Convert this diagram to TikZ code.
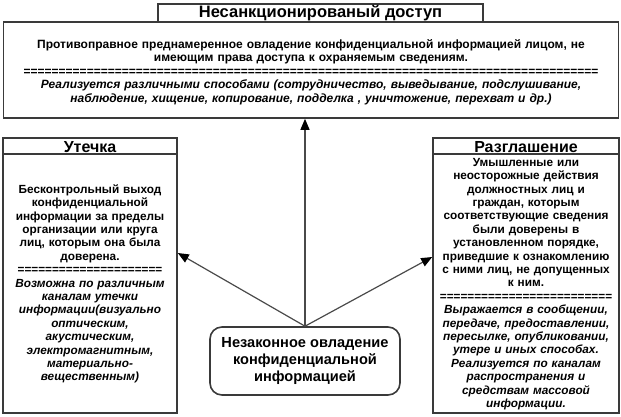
\documentclass[tikz,border=0pt]{standalone}
\usepackage{fontspec}
\setmainfont{Liberation Sans}
\usetikzlibrary{arrows.meta,positioning}
\definecolor{Frame}{HTML}{3A3A3A}
\definecolor{Wire}{HTML}{4A4A4A}

\begin{document}
\begin{tikzpicture}[x=1pt,y=-1pt,
    frame/.style={draw=Frame,line width=1.6pt,inner sep=0pt},
    body/.style={font=\fontsize{11.8}{13.4}\selectfont\bfseries,align=center,inner sep=0pt},
    head/.style={font=\fontsize{16}{18}\selectfont\bfseries,inner sep=0pt},
    arr/.style={draw=Wire,line width=1.2pt,-{Triangle[length=11pt,width=9pt,color=black]}}]
  \useasboundingbox (0,0) rectangle (621,416);
  % main box with its title
  \node[frame,minimum width=615pt,minimum height=96pt] (access) at (311,70) {};
  \node[frame,fill=white,minimum width=325pt,minimum height=18pt] (accesshead) at (320.5,13) {};
  \node[head,font=\fontsize{16.5}{19}\selectfont\bfseries] (accesstitle) at (accesshead) {Несанкционированый доступ};
  \node[body,font=\fontsize{12}{13.6}\selectfont\bfseries,text width=610pt] (accesstxt) at (311,72) {Противоправное преднамеренное овладение конфиденциальной информацией лицом, не\\
    имеющим права доступа к охраняемым сведениям.\\
    ==================================================================================\\
    \itshape Реализуется различными способами (сотрудничество, выведывание, подслушивание,\\
    наблюдение, хищение, копирование, подделка , уничтожение, перехват и др.)};
  % side boxes
  \node[frame,minimum width=174pt,minimum height=275pt] (leak) at (90,275.5) {};
  \draw[Frame,line width=1.6pt] ([yshift=-17pt]leak.north west) -- ([yshift=-17pt]leak.north east);
  \node[head] (leaktitle) at (90,147) {Утечка};
  \node[body,text width=174pt] (leaktxt) at (90,284) {Бесконтрольный выход\\
    конфиденциальной\\
    информации за пределы\\
    организации или круга\\
    лиц, которым она была\\
    доверена.\\
    =====================\\
    \itshape Возможна по различным\\
    каналам утечки\\
    информации(визуально\\
    оптическим,\\
    акустическим,\\
    электромагнитным,\\
    материально-\\
    вещественным)};
  \node[frame,minimum width=186pt,minimum height=275pt] (disclose) at (526,275.5) {};
  \draw[Frame,line width=1.6pt] ([yshift=-17pt]disclose.north west) -- ([yshift=-17pt]disclose.north east);
  \node[head] (disclosetitle) at (526,147) {Разглашение};
  \node[body,text width=186pt] (disclosetxt) at (526,284) {Умышленные или\\
    неосторожные действия\\
    должностных лиц и\\
    граждан, которым\\
    соответствующие сведения\\
    были доверены в\\
    установленном порядке,\\
    приведшие к ознакомлению\\
    с ними лиц, не допущенных\\
    к ним.\\
    =========================\\
    \itshape Выражается в сообщении,\\
    передаче, предоставлении,\\
    пересылке, опубликовании,\\
    утере и иных способах.\\
    Реализуется по каналам\\
    распространения и\\
    средствам массовой\\
    информации.};
  % source
  \node[frame,rounded corners=12pt,minimum width=190pt,minimum height=68pt,
    font=\fontsize{14.6}{17}\selectfont\bfseries,align=center] (illegal) at (305,361)
    {Незаконное овладение\\конфиденциальной\\информацией};
  \draw[arr] (illegal.north) -- (illegal.north |- access.south);
  \draw[arr] (illegal.north) -- ([yshift=22.5pt]leak.east);
  \draw[arr] (illegal.north) -- ([yshift=18.5pt]disclose.west);
\end{tikzpicture}
\end{document}
